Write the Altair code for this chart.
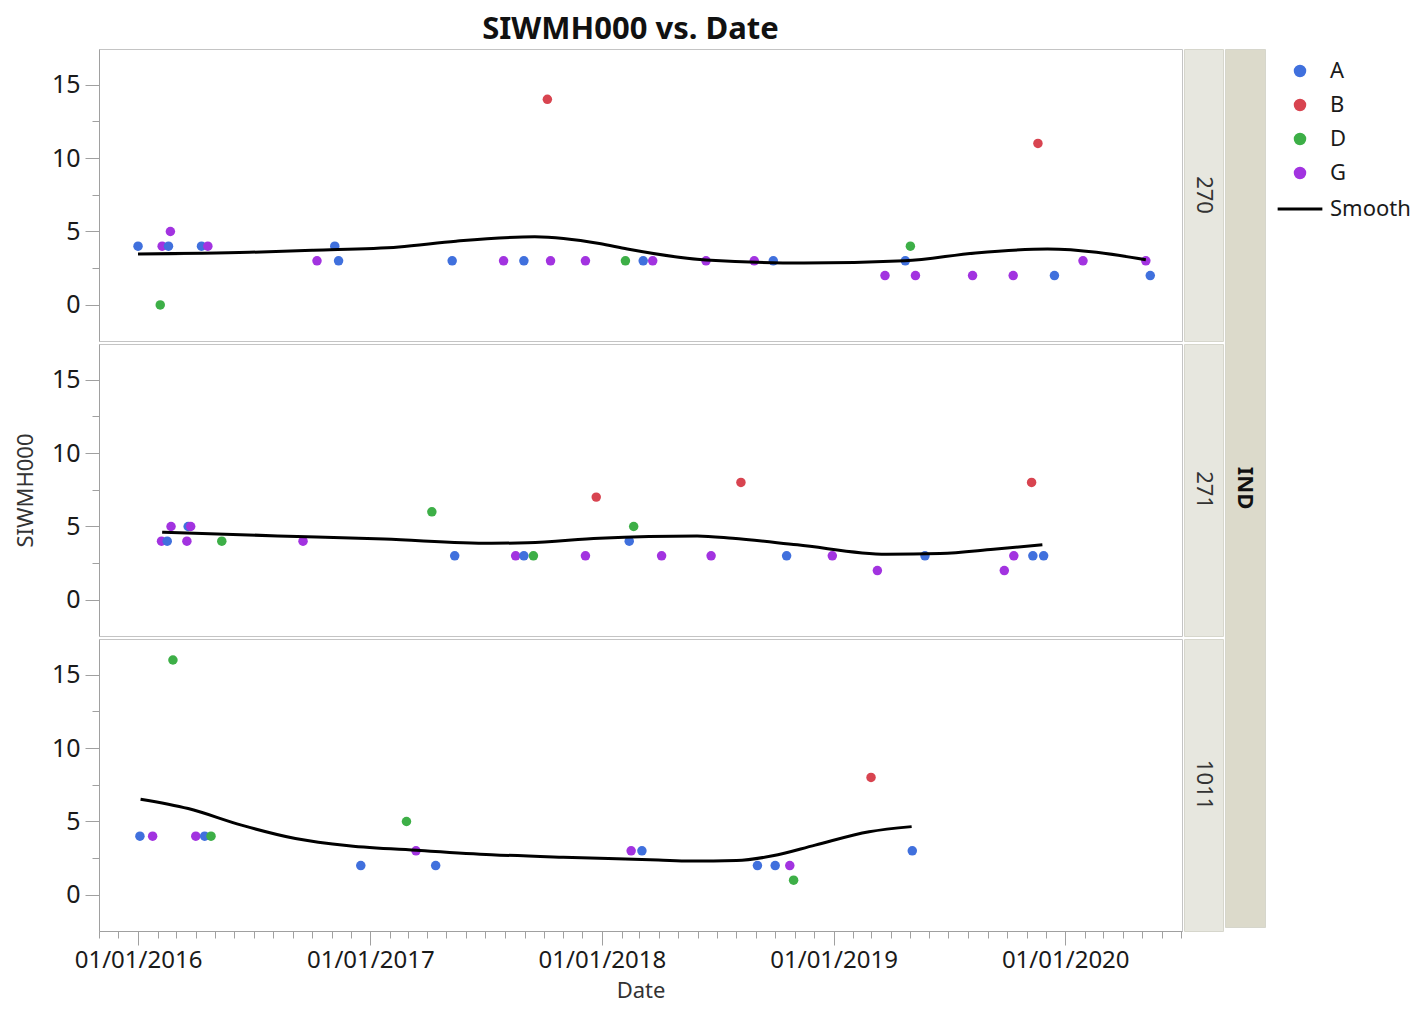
import altair as alt
import pandas as pd

FONT = "Noto Sans"

# ---------------- data: IND 270 ----------------
d270 = ["2016-01-01", "2016-02-08", "2016-02-18", "2016-02-21", "2016-02-05", "2016-04-10",
        "2016-04-20", "2016-10-09", "2016-11-06", "2016-11-12", "2017-05-10", "2017-07-30",
        "2017-08-31", "2017-10-07", "2017-10-12", "2017-12-06", "2018-02-07", "2018-03-07",
        "2018-03-22", "2018-06-14", "2018-08-29", "2018-09-28", "2019-03-23", "2019-04-24",
        "2019-05-02", "2019-05-10", "2019-08-08", "2019-10-11", "2019-11-19", "2019-12-15",
        "2020-01-29", "2020-05-07", "2020-05-14"]
v270 = [4, 4, 4, 5, 0, 4, 4, 3, 4, 3, 3, 3, 3, 14, 3, 3, 3, 3, 3, 3, 3, 3,
        2, 3, 4, 2, 2, 2, 11, 2, 3, 3, 2]
g270 = ["A", "G", "A", "G", "D", "A", "G", "G", "A", "A", "A", "G", "A", "B", "G", "G",
        "D", "A", "G", "G", "G", "A", "G", "A", "D", "G", "G", "G", "B", "A", "G", "G", "A"]

# ---------------- data: IND 271 ----------------
d271 = ["2016-02-07", "2016-02-16", "2016-02-22", "2016-03-20", "2016-03-24", "2016-03-18",
        "2016-05-12", "2016-09-17", "2017-04-08", "2017-05-14", "2017-08-18", "2017-08-31",
        "2017-09-15", "2017-12-06", "2017-12-23", "2018-02-13", "2018-02-20", "2018-04-05",
        "2018-06-22", "2018-08-08", "2018-10-19", "2018-12-30", "2019-03-11", "2019-05-25",
        "2019-09-27", "2019-10-12", "2019-11-09", "2019-11-11", "2019-11-28"]
v271 = [4, 4, 5, 5, 5, 4, 4, 4, 6, 3, 3, 3, 3, 3, 7, 4, 5, 3, 3, 8, 3, 3, 2, 3, 2, 3, 8, 3, 3]
g271 = ["G", "A", "G", "A", "G", "G", "D", "G", "D", "A", "G", "A", "D", "G", "B", "A",
        "D", "G", "G", "B", "A", "G", "G", "A", "G", "G", "B", "A", "A"]

# ---------------- data: IND 1011 ----------------
d1011 = ["2016-01-04", "2016-01-24", "2016-02-25", "2016-04-01", "2016-04-15", "2016-04-25",
         "2016-12-17", "2017-02-27", "2017-03-14", "2017-04-14", "2018-02-16", "2018-03-05",
         "2018-09-03", "2018-10-01", "2018-10-24", "2018-10-30", "2019-03-01", "2019-05-05"]
v1011 = [4, 4, 16, 4, 4, 4, 2, 5, 3, 2, 3, 3, 2, 2, 2, 1, 8, 3]
g1011 = ["A", "G", "D", "G", "A", "D", "A", "D", "G", "A", "G", "A", "A", "A", "G", "D", "B", "A"]

# ---------------- smoother curves ----------------
s270_d = ["2016-01-01", "2016-06-24", "2016-10-03", "2017-02-15", "2017-05-16", "2017-09-17",
          "2017-12-28", "2018-02-10", "2018-06-14", "2018-11-15", "2019-04-23", "2019-08-13",
          "2019-12-04", "2020-05-07"]
s270_v = [3.47, 3.58, 3.72, 3.95, 4.34, 4.64, 4.18, 3.8, 3.06, 2.85, 3.0, 3.54, 3.81, 3.08]

s271_d = ["2016-02-08", "2016-08-08", "2017-01-23", "2017-07-11", "2017-09-06", "2017-12-28",
          "2018-05-31", "2018-07-26", "2018-11-05", "2019-03-26", "2019-06-18", "2019-09-10",
          "2019-11-26"]
s271_v = [4.61, 4.36, 4.14, 3.86, 3.89, 4.2, 4.36, 4.2, 3.75, 3.11, 3.16, 3.45, 3.75]

s1011_d = ["2016-01-05", "2016-03-20", "2016-06-12", "2016-09-05", "2016-11-28", "2017-03-21",
           "2017-07-11", "2017-11-01", "2018-03-31", "2018-05-20", "2018-08-01", "2018-09-27",
           "2018-12-03", "2019-02-26", "2019-05-04"]
s1011_v = [6.52, 5.88, 4.75, 3.84, 3.34, 3.02, 2.74, 2.56, 2.38, 2.30, 2.34, 2.66, 3.39, 4.3, 4.65]

ind_labels = ["270", "271", "1011"]

# legend / style
DOM = ["A", "B", "D", "G", "Smooth"]
COLS = ["#4070dd", "#d84450", "#3daf47", "#a233e0", "#000000"]
SHAPES = ["circle", "circle", "circle", "circle", "M-2,0H2"]
SIZES = [90, 90, 90, 90, 500]

PW, PH = 1083, 292

x_dom = [alt.DateTime(year=2015, month=10, date=31, hours=12, utc=True),
         alt.DateTime(year=2020, month=7, date=3, utc=True)]
y_dom = [-2.46, 17.43]

y_axis_kw = dict(
    values=[0, 2.5, 5, 7.5, 10, 12.5, 15],
    labelExpr="datum.value % 5 == 0 ? datum.label : ''",
    tickSize={"condition": {"test": "datum.value % 5 == 0", "value": 14}, "value": 7},
    labelFontSize=25, labelFont=FONT, labelColor="#1a1a1a", labelPadding=5,
    tickColor="#a0a0a0", domainColor="#a0a0a0", grid=False,
    titleFont=FONT, titleFontSize=22, titleFontWeight="normal", titleColor="#333333",
    titlePadding=14,
)

x_axis = alt.Axis(
    title="Date",
    tickCount=alt.TimeIntervalStep(interval="month", step=1),
    labelExpr="utcmonth(datum.value) == 0 ? utcFormat(datum.value, '%m/%d/%Y') : ''",
    tickSize={"condition": {"test": "utcmonth(datum.value) == 0", "value": 14}, "value": 7},
    labelFontSize=24, labelFont=FONT, labelColor="#1a1a1a", labelPadding=3,
    labelOverlap=False, labelFlush=False,
    tickColor="#a0a0a0", domainColor="#a0a0a0", grid=False,
    titleFont=FONT, titleFontSize=22, titleFontWeight="normal", titleColor="#333333",
    titlePadding=8,
)

legend = alt.Legend(title=" ", titleFontSize=2, titlePadding=9)


def panel(dates, vals, grps, sd, sv, label, idx):
    pdf = pd.DataFrame({"date": dates, "value": vals, "series": grps, "IND": label})
    sdf = pd.DataFrame({"date": sd, "value": sv, "series": "Smooth", "IND": label})
    ytitle = "SIWMH000" if idx == 1 else " "
    x_enc = alt.X("date:T", scale=alt.Scale(type="utc", domain=x_dom),
                  axis=x_axis if idx == 2 else None)
    y_enc = alt.Y("value:Q", scale=alt.Scale(domain=y_dom, nice=False, zero=False),
                  axis=alt.Axis(title=ytitle, **y_axis_kw))
    pts = alt.Chart(pdf).mark_point(filled=True, opacity=1).encode(
        x=x_enc, y=y_enc,
        color=alt.Color("series:N", scale=alt.Scale(domain=DOM, range=COLS), legend=legend),
        shape=alt.Shape("series:N", scale=alt.Scale(domain=DOM, range=SHAPES), legend=legend),
        size=alt.Size("series:N", scale=alt.Scale(type="ordinal", domain=DOM, range=SIZES),
                      legend=legend),
    )
    line = alt.Chart(sdf).mark_line(strokeWidth=3, interpolate="monotone").encode(
        x=x_enc, y=y_enc,
        color=alt.Color("series:N", scale=alt.Scale(domain=DOM, range=COLS), legend=legend),
    )
    body = alt.layer(pts, line).properties(width=PW, height=PH)
    strip = alt.Chart(pd.DataFrame({"lab": [label]})).mark_text(
        angle=90, font=FONT, fontSize=22, color="#333333"
    ).encode(text="lab:N").properties(
        width=39, height=PH, view=alt.ViewBackground(fill="#e7e7df", stroke="#d6d6cc"))
    return alt.hconcat(body, strip, spacing=0)


rows = [
    panel(d270, v270, g270, s270_d, s270_v, ind_labels[0], 0),
    panel(d271, v271, g271, s271_d, s271_v, ind_labels[1], 1),
    panel(d1011, v1011, g1011, s1011_d, s1011_v, ind_labels[2], 2),
]
left = alt.vconcat(*rows, spacing=1)

ind_strip = alt.Chart(pd.DataFrame({"lab": ["IND"]})).mark_text(
    angle=90, font=FONT, fontSize=22, fontWeight="bold", color="#111111"
).encode(text="lab:N").properties(
    width=40, height=3 * PH + 2, view=alt.ViewBackground(fill="#dcdacb", stroke="#d6d6cc"))

chart = alt.hconcat(left, ind_strip, spacing=0).properties(
    title=alt.TitleParams("SIWMH000 vs. Date", font=FONT, fontSize=31, fontWeight="bold",
                          color="#111111", anchor="middle", offset=3, dx=-82),
    padding={"left": 5, "top": 5, "right": 0, "bottom": 0},
).configure_view(
    stroke="#c4c4c4", strokeWidth=1
).configure_legend(
    orient="right", offset=21, labelFont=FONT, labelFontSize=22, labelColor="#1a1a1a",
    symbolStrokeWidth=3, labelOffset=17, rowPadding=12, padding=0,
).configure_concat(spacing=0)

chart.save("out.html", embed_options={"renderer": "svg", "actions": False})
